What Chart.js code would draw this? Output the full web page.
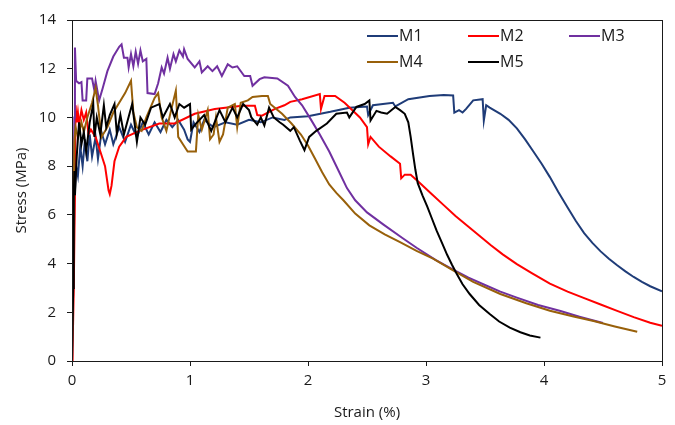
<!DOCTYPE html>
<html>
<head>
<meta charset="utf-8">
<script src="https://cdn.jsdelivr.net/npm/chart.js@4"></script>
<style>
  html, body { margin: 0; padding: 0; background: #fff; }
  #wrap { width: 675px; height: 425px; }
</style>
</head>
<body>
<div id="wrap"><canvas id="stressChart"></canvas></div>
<script>
// strain (%) / stress (MPa) pairs for each mix
const m1 = [[0,0],[0.01,3],[0.02,6.5],[0.035,8.0],[0.05,7.6],[0.07,8.8],[0.09,8.0],[0.11,9.1],[0.13,8.2],[0.15,9.3],[0.17,8.4],[0.2,9.2],[0.22,8.3],[0.25,9.4],[0.28,8.9],[0.32,9.5],[0.35,8.9],[0.4,9.6],[0.45,9.0],[0.5,9.7],[0.55,9.2],[0.6,9.8],[0.65,9.3],[0.7,9.8],[0.75,9.4],[0.8,9.9],[0.85,9.6],[0.9,9.9],[0.95,9.5],[0.98,9.1],[1.0,9.0],[1.03,9.8],[1.08,9.4],[1.12,9.9],[1.2,9.6],[1.3,9.8],[1.4,9.7],[1.5,9.9],[1.6,9.8],[1.7,10.0],[1.8,9.9],[1.85,10.0],[2.0,10.05],[2.19,10.23],[2.35,10.4],[2.5,10.45],[2.51,10.1],[2.55,10.5],[2.72,10.6],[2.74,10.45],[2.85,10.75],[3.03,10.88],[3.15,10.92],[3.23,10.9],[3.24,10.2],[3.28,10.3],[3.31,10.2],[3.34,10.35],[3.4,10.7],[3.48,10.75],[3.49,9.87],[3.51,10.5],[3.54,10.4],[3.63,10.15],[3.7,9.9],[3.77,9.55],[3.84,9.1],[3.91,8.6],[3.98,8.1],[4.05,7.55],[4.12,6.95],[4.2,6.3],[4.27,5.75],[4.34,5.25],[4.41,4.85],[4.48,4.5],[4.55,4.2],[4.62,3.93],[4.69,3.68],[4.76,3.45],[4.83,3.25],[4.9,3.07],[5.0,2.86]];
const m2 = [[0,0],[0.005,0.5],[0.015,3],[0.025,7],[0.03,10.5],[0.04,9.8],[0.05,10.2],[0.06,9.7],[0.08,10.3],[0.1,9.9],[0.12,10.2],[0.14,9.3],[0.16,9.5],[0.2,9.2],[0.24,8.6],[0.28,8.0],[0.31,7.0],[0.32,6.85],[0.335,7.2],[0.36,8.2],[0.4,8.8],[0.46,9.2],[0.57,9.45],[0.74,9.75],[0.87,9.75],[1.04,10.15],[1.21,10.35],[1.44,10.48],[1.55,10.48],[1.57,10.1],[1.61,10.07],[1.72,10.35],[1.8,10.5],[1.85,10.64],[1.95,10.75],[2.1,10.96],[2.11,10.35],[2.14,10.88],[2.23,10.88],[2.31,10.6],[2.44,10.0],[2.5,9.6],[2.51,8.9],[2.53,9.2],[2.6,8.8],[2.7,8.4],[2.78,8.1],[2.79,7.5],[2.82,7.65],[2.87,7.65],[2.95,7.3],[3.05,6.85],[3.15,6.4],[3.25,5.95],[3.35,5.55],[3.45,5.15],[3.55,4.75],[3.65,4.38],[3.77,3.98],[3.9,3.6],[4.05,3.18],[4.2,2.85],[4.33,2.6],[4.48,2.32],[4.62,2.06],[4.76,1.8],[4.9,1.57],[5.0,1.45]];
const m3 = [[0,0],[0.01,5],[0.02,10],[0.025,12.87],[0.035,11.5],[0.06,11.4],[0.08,11.45],[0.09,10.7],[0.12,10.7],[0.13,11.6],[0.17,11.6],[0.19,11.1],[0.2,11.5],[0.23,10.7],[0.26,11.2],[0.3,11.9],[0.35,12.5],[0.4,12.9],[0.42,13.0],[0.44,12.45],[0.47,12.45],[0.48,12.05],[0.5,12.6],[0.52,12.1],[0.54,12.7],[0.56,12.2],[0.58,12.75],[0.6,12.3],[0.63,12.4],[0.64,11.0],[0.7,10.96],[0.73,11.4],[0.76,12.05],[0.78,11.8],[0.81,12.45],[0.83,12.0],[0.86,12.6],[0.88,12.3],[0.91,12.75],[0.94,12.5],[0.95,12.8],[0.98,12.4],[1.04,12.05],[1.08,12.3],[1.1,11.85],[1.15,12.1],[1.19,11.9],[1.23,12.1],[1.27,11.7],[1.32,12.18],[1.36,12.05],[1.4,12.1],[1.46,11.7],[1.51,11.7],[1.53,11.3],[1.59,11.57],[1.63,11.65],[1.74,11.6],[1.83,11.3],[1.89,10.84],[1.95,10.5],[2.02,9.95],[2.1,9.3],[2.18,8.6],[2.26,7.8],[2.33,7.1],[2.4,6.6],[2.5,6.1],[2.64,5.6],[2.8,5.05],[2.92,4.65],[3.08,4.15],[3.23,3.75],[3.36,3.42],[3.49,3.14],[3.63,2.85],[3.77,2.6],[3.95,2.3],[4.14,2.05],[4.3,1.82],[4.42,1.66],[4.5,1.56]];
const m4 = [[0,0],[0.01,4],[0.02,9.0],[0.03,9.6],[0.05,9.2],[0.08,9.8],[0.1,9.4],[0.13,10.0],[0.17,10.6],[0.2,11.2],[0.22,10.5],[0.25,9.2],[0.3,9.6],[0.35,10.2],[0.4,10.6],[0.45,11.0],[0.5,11.5],[0.52,10.2],[0.55,9.6],[0.59,9.45],[0.63,10.0],[0.7,10.8],[0.73,11.0],[0.76,10.0],[0.8,9.45],[0.84,10.3],[0.88,11.1],[0.9,9.2],[0.94,8.9],[0.98,8.6],[1.05,8.6],[1.07,10.1],[1.1,9.5],[1.15,10.3],[1.17,9.1],[1.2,9.3],[1.22,10.0],[1.25,9.0],[1.28,9.3],[1.32,10.4],[1.38,10.55],[1.4,9.6],[1.43,10.6],[1.49,10.7],[1.53,10.84],[1.61,10.88],[1.66,10.88],[1.68,10.55],[1.78,10.15],[1.86,9.75],[1.94,9.3],[2.0,8.85],[2.06,8.3],[2.12,7.75],[2.18,7.25],[2.24,6.9],[2.3,6.6],[2.4,6.05],[2.52,5.57],[2.65,5.2],[2.78,4.88],[2.92,4.52],[3.06,4.2],[3.23,3.72],[3.4,3.25],[3.63,2.75],[3.85,2.37],[4.05,2.06],[4.25,1.83],[4.42,1.64],[4.6,1.42],[4.79,1.2]];
const m5 = [[0,0],[0.01,3],[0.015,6.8],[0.02,7.8],[0.025,6.8],[0.04,8.4],[0.06,9.8],[0.08,8.9],[0.1,9.4],[0.12,8.6],[0.15,9.8],[0.18,10.55],[0.19,9.2],[0.21,10.0],[0.24,9.3],[0.27,10.5],[0.29,9.6],[0.32,10.1],[0.36,10.55],[0.38,9.34],[0.41,10.1],[0.44,9.3],[0.49,10.2],[0.51,10.55],[0.55,9.0],[0.58,10.0],[0.62,9.7],[0.67,10.4],[0.74,10.55],[0.77,10.0],[0.83,10.55],[0.87,10.0],[0.91,10.55],[0.95,10.4],[1.0,10.55],[1.01,9.5],[1.06,9.8],[1.12,10.1],[1.18,9.45],[1.25,10.3],[1.3,9.8],[1.36,10.4],[1.4,10.0],[1.45,10.55],[1.5,10.3],[1.52,10.0],[1.57,9.7],[1.6,10.0],[1.63,9.67],[1.67,10.4],[1.71,10.0],[1.76,9.8],[1.79,9.7],[1.85,9.45],[1.88,9.6],[1.93,9.06],[1.97,8.66],[2.01,9.2],[2.07,9.45],[2.16,9.75],[2.24,10.15],[2.33,10.2],[2.35,10.0],[2.41,10.43],[2.48,10.55],[2.52,10.7],[2.53,9.87],[2.58,10.27],[2.62,10.2],[2.67,10.15],[2.74,10.43],[2.78,10.3],[2.82,10.15],[2.85,9.8],[2.87,9.2],[2.89,8.5],[2.91,7.85],[2.93,7.3],[2.97,6.8],[3.01,6.35],[3.05,5.85],[3.09,5.35],[3.14,4.8],[3.18,4.35],[3.22,3.95],[3.26,3.58],[3.31,3.15],[3.37,2.75],[3.45,2.3],[3.54,1.93],[3.62,1.62],[3.71,1.37],[3.8,1.18],[3.88,1.05],[3.97,0.96]];

const seriesNames = ["M1", "M2", "M3", "M4", "M5"];
const seriesData = [m1, m2, m3, m4, m5];
const seriesColors = ["#1F3C78", "#FF0000", "#7030A0", "#98600A", "#000000"];

const strainTicks = [0, 1, 2, 3, 4, 5];
const stressTicks = [0, 2, 4, 6, 8, 10, 12, 14];

const FONT = "'Open Sans', 'Liberation Sans', sans-serif";
const TEXT = "#1a1a1a";

// box round the plot (top and right edges)
const frame = {
    id: "frame",
    afterDatasetsDraw(chart) {
        const { ctx, chartArea: a } = chart;
        ctx.save();
        ctx.strokeStyle = TEXT;
        ctx.lineWidth = 1;
        ctx.strokeRect(Math.round(a.left) + 0.5, Math.round(a.top) + 0.5,
            Math.round(a.right - a.left), Math.round(a.bottom - a.top));
        ctx.restore();
    }
};

// legend inside the plot: three columns, two rows
const insideLegend = {
    id: "insideLegend",
    afterDraw(chart) {
        const { ctx } = chart;
        ctx.save();
        ctx.font = "16px " + FONT;
        ctx.textBaseline = "middle";
        ctx.fillStyle = TEXT;
        ctx.lineWidth = 2;
        chart.data.datasets.forEach((ds, i) => {
            const col = i % 3, row = Math.floor(i / 3);
            const x = 367 + col * 101;
            const y = 36 + row * 26;
            ctx.strokeStyle = ds.borderColor;
            ctx.beginPath();
            ctx.moveTo(x, y);
            ctx.lineTo(x + 31, y);
            ctx.stroke();
            ctx.fillText(ds.label, x + 32, y);
        });
        ctx.restore();
    }
};

const ctx = document.getElementById("stressChart").getContext("2d");
new Chart(ctx, {
    type: "scatter",
    data: {
        datasets: seriesNames.map((name, i) => ({
            label: name,
            data: seriesData[i].map(p => ({ x: p[0], y: p[1] })),
            borderColor: seriesColors[i],
            backgroundColor: seriesColors[i],
            borderWidth: 2,
            showLine: true,
            pointRadius: 0,
            tension: 0,
            order: seriesNames.length - i
        }))
    },
    options: {
        responsive: true,
        maintainAspectRatio: false,
        animation: false,
        layout: { padding: { top: 15, right: 13, left: 0, bottom: 0 } },
        plugins: {
            legend: { display: false },
            tooltip: { enabled: false }
        },
        scales: {
            x: {
                type: "linear",
                min: 0,
                max: 5,
                afterFit: s => { s.height = 64; },
                afterBuildTicks: s => { s.ticks = strainTicks.map(v => ({ value: v })); },
                border: { display: true, color: TEXT, width: 1 },
                grid: { drawOnChartArea: false, drawTicks: true, tickLength: 5, color: TEXT },
                ticks: { color: TEXT, padding: 6, font: { size: 15, family: FONT } },
                title: {
                    display: true,
                    text: "Strain (%)",
                    color: TEXT,
                    font: { size: 15, family: FONT },
                    padding: { top: 4, bottom: 3 }
                }
            },
            y: {
                min: 0,
                max: 14,
                afterFit: s => { s.width = 72; },
                afterBuildTicks: s => { s.ticks = stressTicks.map(v => ({ value: v })); },
                border: { display: true, color: TEXT, width: 1 },
                grid: { drawOnChartArea: false, drawTicks: true, tickLength: 5, color: TEXT },
                ticks: { color: TEXT, padding: 11, font: { size: 15, family: FONT } },
                title: {
                    display: true,
                    text: "Stress (MPa)",
                    color: TEXT,
                    font: { size: 15, family: FONT },
                    padding: { top: 13, bottom: 0 }
                }
            }
        }
    },
    plugins: [frame, insideLegend]
});
</script>
</body>
</html>
